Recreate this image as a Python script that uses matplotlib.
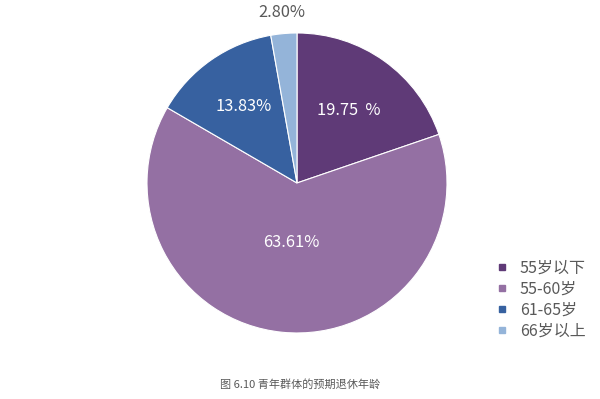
import matplotlib
matplotlib.use("Agg")
import matplotlib.pyplot as plt
import numpy as np
from matplotlib.lines import Line2D

plt.rcParams['font.family'] = ['Noto Sans CJK SC', 'DejaVu Sans']

categories = ['55岁以下', '55-60岁', '61-65岁', '66岁以上']
values = [19.75, 63.61, 13.83, 2.80]
labels = ['19.75  %', '63.61%', '13.83%', '2.80%']
colors = ['#5f3a77', '#9470a3', '#3761a0', '#94b4d9']
label_dist = [0.59, 0.40, 0.62, 1.14]
label_colors = ['white', 'white', 'white', '#595959']

fig = plt.figure(figsize=(6, 3.99), dpi=100)
ax = fig.add_axes([0.245, 0.1654, 0.5, 0.752])
wedges, _ = ax.pie(values, colors=colors, startangle=90, counterclock=False,
                   wedgeprops=dict(edgecolor='white', linewidth=0.8))
ax.set_xlim(-1, 1)
ax.set_ylim(-1, 1)
ax.set_aspect('equal')

for w, lab, d, c in zip(wedges, labels, label_dist, label_colors):
    ang = np.deg2rad((w.theta1 + w.theta2) / 2)
    ax.text(d * np.cos(ang), d * np.sin(ang), lab, ha='center', va='center',
            fontsize=11.8, color=c)

handles = [Line2D([0], [0], marker='s', linestyle='none', markersize=5,
                  markerfacecolor=col, markeredgecolor=col) for col in colors]
fig.legend(handles, categories, loc='center left', bbox_to_anchor=(0.8, 0.248),
           frameon=False, fontsize=11.5, labelcolor='#595959', handletextpad=0.6,
           labelspacing=0.25, handlelength=1.0)

fig.text(0.5, 1 - 384 / 399, '图 6.10 青年群体的预期退休年龄', ha='center', va='center',
         fontsize=8, color='#595959')

fig.savefig('out.png', dpi=100)
